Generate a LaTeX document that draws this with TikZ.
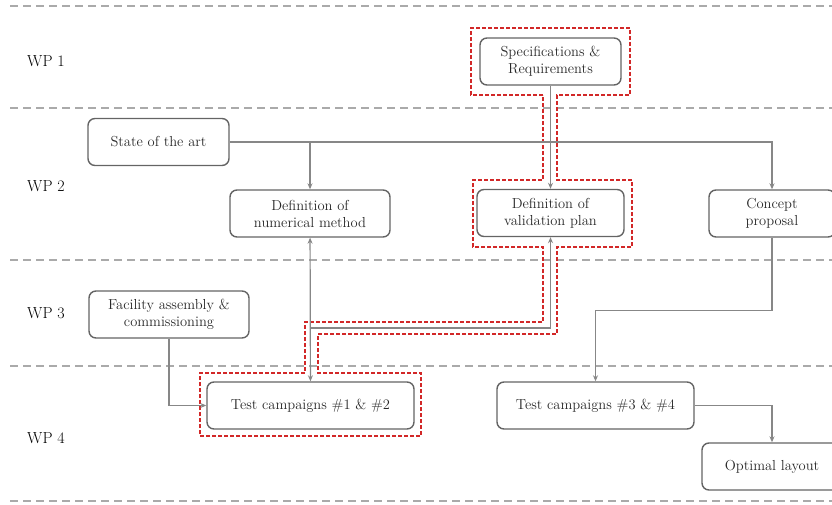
\documentclass[tikz,border=0pt]{standalone}
\usepackage{fontspec}
\usepackage{tikz}
\usetikzlibrary{arrows.meta, positioning}
\definecolor{boxLine}{RGB}{100,100,100}
\definecolor{connLine}{RGB}{135,135,135}
\definecolor{sepLine}{RGB}{170,170,170}
\definecolor{critPath}{RGB}{210,40,40}
\definecolor{txtCol}{RGB}{40,40,40}

\tikzset{
  task/.style={draw=boxLine, line width=1.4pt, rounded corners=7pt, text=txtCol,
    align=center, minimum height=47pt, inner sep=2pt},
  conn/.style={draw=connLine, line width=1.2pt},
  wpsep/.style={draw=sepLine, line width=1.4pt, dash pattern=on 8pt off 5pt},
  crit/.style={draw=critPath, line width=1.2pt, dash pattern=on 4pt off 2pt},
  wplabel/.style={text=black, font=\fontsize{16}{19}\selectfont},
}

\begin{document}
\begin{tikzpicture}[>={Stealth[length=6pt,width=5pt]}, x=1pt, y=-1pt,
    font=\fontsize{14.5}{17}\selectfont]
  \useasboundingbox (0,0) rectangle (832,505);

  % work package rows
  \foreach \yy in {6,108,260,366,501}
    \draw[wpsep] (10,\yy) -- (832,\yy);
  \node[wplabel] (wp1) at (46,61) {WP 1};
  \node[wplabel] (wp2) at (46,186) {WP 2};
  \node[wplabel] (wp3) at (46,313) {WP 3};
  \node[wplabel] (wp4) at (46,438) {WP 4};

  % critical path
  \draw[crit] (543,95) -- (471,95) -- (471,28) -- (630,28) -- (630,95)
    -- (557,95) -- (557,180) -- (632,180) -- (632,247) -- (557,247)
    -- (557,334) -- (318,334) -- (318,373) -- (421,373) -- (421,436)
    -- (200,436) -- (200,373) -- (305,373) -- (305,322) -- (543,322)
    -- (543,247) -- (473,247) -- (473,180) -- (543,180) -- cycle;

  % tasks
  \node[task, minimum width=141pt] (spec) at (550.5,61.5) {Specifications \&\\Requirements};
  \node[task, minimum width=141pt] (soa) at (158.5,142) {State of the art};
  \node[task, minimum width=160pt] (num) at (310,213.5) {Definition of\\numerical method};
  \node[task, minimum width=147pt] (valid) at (550.5,213) {Definition of\\validation plan};
  \node[task, minimum width=126pt] (concept) at (772,213.5) {Concept\\proposal};
  \node[task, minimum width=160pt] (facility) at (169,314.5) {Facility assembly \&\\commissioning};
  \node[task, minimum width=207pt] (tc12) at (310.5,405.5) {Test campaigns \#1 \& \#2};
  \node[task, minimum width=197pt] (tc34) at (595.5,405.5) {Test campaigns \#3 \& \#4};
  \node[task, minimum width=140pt] (optimal) at (772,466.5) {Optimal layout};

  % links
  \coordinate (jn) at (310,328);
  \draw[conn, ->] (spec) -- (valid);
  \draw[conn, ->] (soa.east) -| (concept.north);
  \draw[conn, ->] (soa.east -| num.north) -- (num.north);
  \draw[conn, <->] (num) -- (tc12);
  \draw[conn, ->] (jn) -| (valid.south);
  \draw[conn, ->] (concept.south) -- ++(0,73) -| (tc34.north);
  \draw[conn, ->] (facility.south) |- (tc12.west);
  \draw[conn, ->] (tc34.east) -| (optimal.north);
\end{tikzpicture}
\end{document}
